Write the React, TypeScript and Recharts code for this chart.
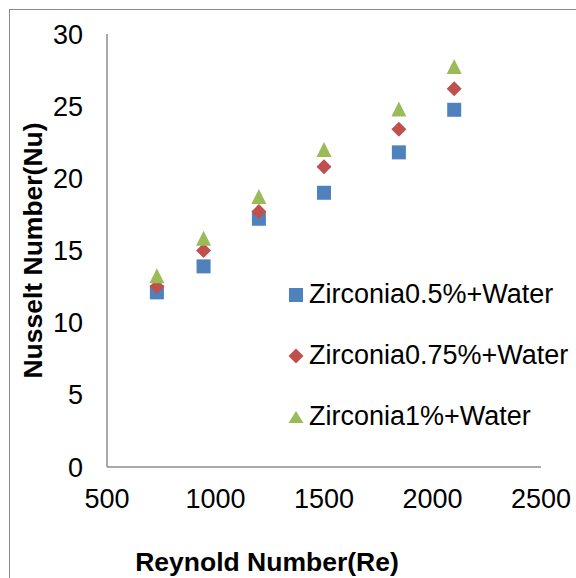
import React from "react"
import {
  ScatterChart,
  Scatter,
  XAxis,
  YAxis,
  Legend,
  Label
} from "recharts"

const reynolds = [730, 945, 1200, 1500, 1845, 2100]
const nu05 = [12.1, 13.9, 17.2, 19.0, 21.8, 24.75]
const nu075 = [12.5, 15.0, 17.7, 20.8, 23.4, 26.2]
const nu1 = [13.25, 15.85, 18.75, 22.0, 24.8, 27.75]

const seriesNames = ["Zirconia0.5%+Water", "Zirconia0.75%+Water", "Zirconia1%+Water"]
const xTicks = [500, 1000, 1500, 2000, 2500]
const yTicks = [0, 5, 10, 15, 20, 25, 30]

const BLUE = "#4F81BD"
const RED = "#C0504D"
const GREEN = "#9BBB59"
const FONT = "'Liberation Sans', Arial, sans-serif"

const toPoints = (ys: number[]) => reynolds.map((re, i) => ({ re, nu: ys[i] }))

const SquareShape = (p: any) => (
  <rect x={p.cx - 7} y={p.cy - 7} width={14} height={14} fill={BLUE} />
)
const DiamondShape = (p: any) => (
  <path
    d={`M${p.cx},${p.cy - 7.5}L${p.cx + 7.5},${p.cy}L${p.cx},${p.cy + 7.5}L${p.cx - 7.5},${p.cy}Z`}
    fill={RED}
  />
)
const TriangleShape = (p: any) => (
  <path
    d={`M${p.cx},${p.cy - 7.5}L${p.cx + 7.5},${p.cy + 7.5}L${p.cx - 7.5},${p.cy + 7.5}Z`}
    fill={GREEN}
  />
)

const icons = [
  <svg width={16} height={16}><rect x={1} y={1} width={14} height={14} fill={BLUE} /></svg>,
  <svg width={16} height={16}><path d="M8,0.5L15.5,8L8,15.5L0.5,8Z" fill={RED} /></svg>,
  <svg width={16} height={16}><path d="M8,2L15.5,14L0.5,14Z" fill={GREEN} /></svg>
]

function LegendBox() {
  return (
    <div style={{ fontFamily: FONT, fontSize: 27, color: "#000", lineHeight: 1 }}>
      {seriesNames.map((name, i) => (
        <div key={name} style={{ display: "flex", alignItems: "center", height: 61 }}>
          <span style={{ width: 21, display: "flex" }}>{icons[i]}</span>
          <span>{name}</span>
        </div>
      ))}
    </div>
  )
}

export default function App() {
  return (
    <div style={{ position: "absolute", left: 0, top: 0, width: 576, height: 578, overflow: "hidden", background: "#fff" }}>
      <div
        style={{
          position: "absolute",
          left: 9,
          top: 9,
          width: 600,
          height: 600,
          borderTop: "1.5px solid #8a8a8a",
          borderLeft: "1.5px solid #8a8a8a"
        }}
      />
      <ScatterChart width={576} height={578} margin={{ top: 34, right: 35, bottom: 81, left: 47 }}>
        <XAxis
          type="number"
          dataKey="re"
          domain={[500, 2500]}
          ticks={xTicks}
          height={30}
          tickLine={false}
          tickSize={0}
          tickMargin={22}
          axisLine={{ stroke: "#8c8c8c", strokeWidth: 1.5 }}
          tick={{ fill: "#000", fontSize: 27, fontFamily: FONT }}
          interval={0}
        >
          <Label
            content={(props: any) => {
              const vb = props.viewBox
              return (
                <text x={vb.x + 160} y={571} textAnchor="middle" fontFamily={FONT} fontSize={26.5} fontWeight="bold" fill="#000">
                  Reynold Number(Re)
                </text>
              )
            }}
          />
        </XAxis>
        <YAxis
          type="number"
          dataKey="nu"
          domain={[0, 30]}
          ticks={yTicks}
          width={60}
          tickLine={false}
          tickSize={0}
          tickMargin={24}
          axisLine={{ stroke: "#8c8c8c", strokeWidth: 1.5 }}
          tick={{ fill: "#000", fontSize: 27, fontFamily: FONT }}
          interval={0}
        >
          <Label
            content={(props: any) => {
              const vb = props.viewBox
              const cy = vb.y + vb.height / 2
              return (
                <text
                  x={42}
                  y={cy}
                  transform={`rotate(-90, 42, ${cy})`}
                  textAnchor="middle"
                  fontFamily={FONT}
                  fontSize={26.5}
                  fontWeight="bold"
                  fill="#000"
                >
                  Nusselt Number(Nu)
                </text>
              )
            }}
          />
        </YAxis>
        <Legend
          layout="vertical"
          align="center"
          verticalAlign="middle"
          content={() => <LegendBox />}
          wrapperStyle={{ left: 288, top: 264, width: 290 }}
        />
        <Scatter name={seriesNames[0]} data={toPoints(nu05)} shape={SquareShape} isAnimationActive={false} />
        <Scatter name={seriesNames[1]} data={toPoints(nu075)} shape={DiamondShape} isAnimationActive={false} />
        <Scatter name={seriesNames[2]} data={toPoints(nu1)} shape={TriangleShape} isAnimationActive={false} />
      </ScatterChart>
    </div>
  )
}
